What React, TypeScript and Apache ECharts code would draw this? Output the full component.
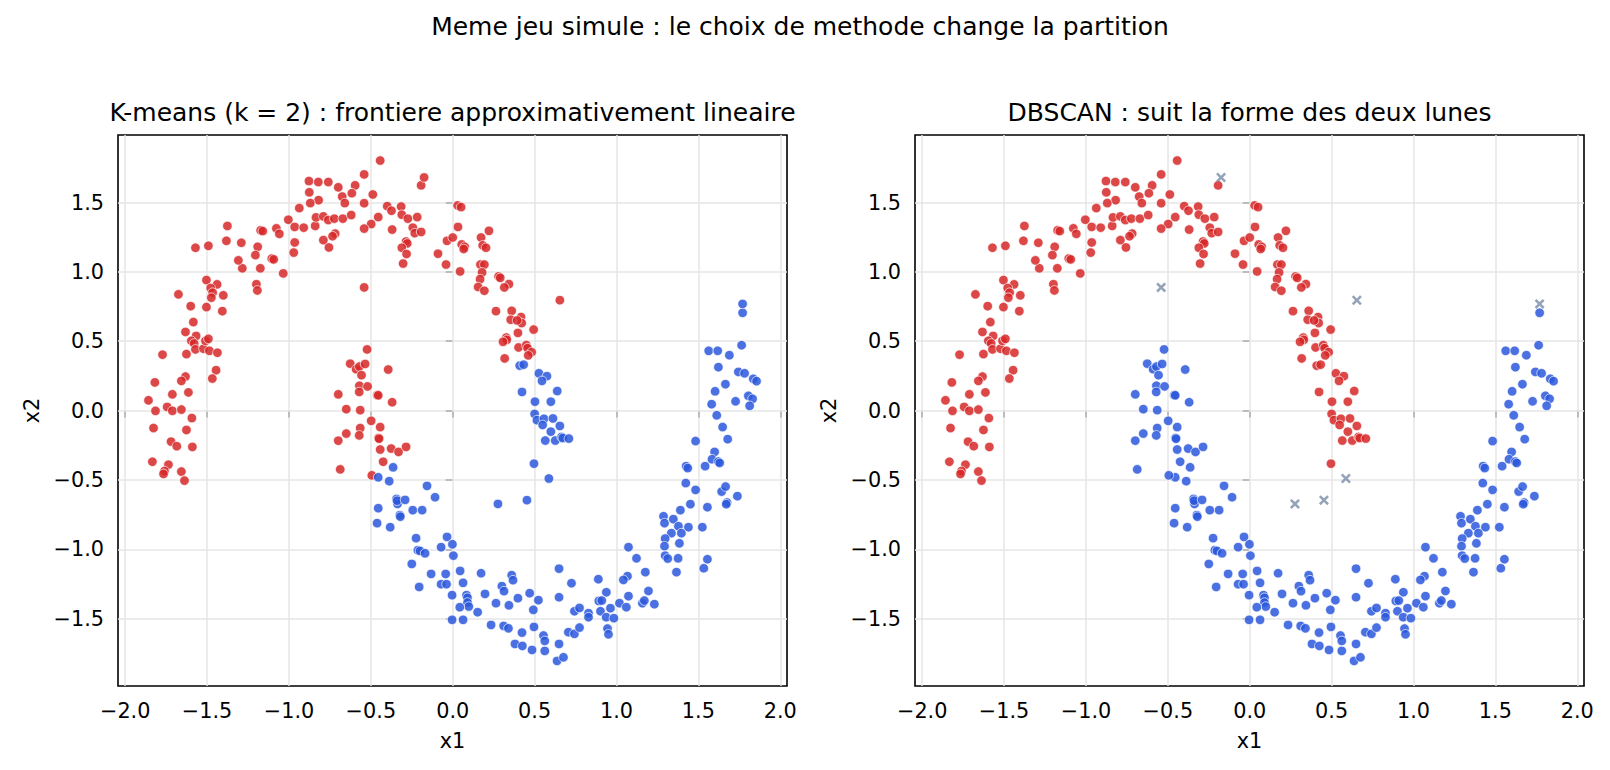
import React, { useEffect, useRef } from "react";
import * as echarts from "echarts";

type Pt = [number, number];

// Upper moon, same colour in both partitions
const upperMoonCore: Pt[] = [
  [-0.878, 1.655], [-0.821, 1.648], [-0.76, 1.648], [-0.699, 1.61], [-0.675, 1.543], [-0.659, 1.496],
  [-0.876, 1.574], [-0.819, 1.517], [-0.87, 1.496], [-0.937, 1.46], [-1.004, 1.376], [-0.965, 1.324],
  [-0.91, 1.319], [-0.84, 1.331], [-0.835, 1.393], [-0.79, 1.4], [-0.76, 1.374], [-0.723, 1.384],
  [-0.671, 1.384], [-0.718, 1.276], [-0.734, 1.257], [-0.79, 1.229], [-0.756, 1.176], [-1.077, 1.314],
  [-1.059, 1.274], [-1.173, 1.3], [-1.16, 1.294], [-0.965, 1.212], [-0.971, 1.139], [-1.035, 0.989],
  [-1.105, 1.096], [-1.093, 1.09], [-1.191, 1.181], [-1.205, 1.121], [-1.175, 1.026], [-1.285, 1.026],
  [-1.309, 1.083], [-1.291, 1.21], [-1.382, 1.224], [-1.376, 1.331], [-1.492, 1.188], [-1.571, 1.174],
  [-1.199, 0.911], [-1.193, 0.866], [-1.504, 0.941], [-1.439, 0.91], [-1.478, 0.884], [-1.466, 0.85],
  [-1.474, 0.814], [-1.401, 0.831], [-1.675, 0.838], [-1.6, 0.753], [-1.504, 0.746], [-1.407, 0.717],
  [-0.443, 1.803], [-0.541, 1.703], [-0.596, 1.624], [-0.616, 1.567], [-0.488, 1.558], [-0.541, 1.495],
  [-0.62, 1.41], [-0.455, 1.395], [-0.498, 1.345], [-0.541, 1.312], [-0.4, 1.474], [-0.374, 1.441],
  [-0.315, 1.471], [-0.311, 1.412], [-0.274, 1.384], [-0.217, 1.395], [-0.37, 1.305], [-0.244, 1.319],
  [-0.232, 1.279], [-0.193, 1.288], [-0.193, 1.624], [-0.285, 1.219], [-0.278, 1.205], [-0.311, 1.174],
  [-0.282, 1.129], [-0.303, 1.06], [-0.09, 1.131], [-0.041, 1.053], [-0.035, 1.224], [0.0, 1.248],
  [0.03, 1.479], [0.051, 1.467], [0.032, 1.324], [0.045, 1.003], [0.055, 1.198], [0.073, 1.181],
  [0.067, 1.165], [0.173, 1.248], [0.221, 1.296], [0.183, 1.191], [0.203, 1.174], [0.169, 1.053],
  [0.193, 1.053], [0.179, 0.996], [0.167, 0.948], [0.155, 0.891], [0.193, 0.864], [0.28, 0.967],
  [0.29, 0.957], [0.343, 0.912], [0.315, 0.888], [0.264, 0.717], [0.36, 0.719], [0.417, 0.674],
  [-1.584, 0.638], [-1.632, 0.567], [-1.567, 0.538], [-1.596, 0.503], [-1.579, 0.484], [-1.571, 0.441],
  [-1.522, 0.446], [-1.51, 0.503], [-1.492, 0.517], [-1.486, 0.431], [-1.437, 0.417], [-1.626, 0.407],
  [-1.772, 0.403], [-1.445, 0.291], [-1.468, 0.231], [-1.632, 0.245], [-1.657, 0.214], [-1.819, 0.203],
  [-1.712, 0.117], [-1.614, 0.131], [-1.858, 0.074], [-1.815, -0.002], [-1.744, 0.026], [-1.712, -0.002],
  [-1.657, 0.007], [-1.593, -0.054], [-1.827, -0.126], [-1.626, -0.14], [-1.72, -0.224], [-1.685, -0.257],
  [-1.59, -0.262], [-1.834, -0.369], [-1.736, -0.39], [-1.76, -0.436], [-1.766, -0.457], [-1.657, -0.44],
  [-1.638, -0.505],
  [0.354, 0.655], [0.421, 0.631], [0.393, 0.65], [0.494, 0.584], [0.398, 0.56], [0.327, 0.526],
  [0.33, 0.51], [0.307, 0.496], [0.402, 0.455], [0.449, 0.472], [0.457, 0.45], [0.482, 0.421],
  [0.461, 0.398], [0.317, 0.376],
];

// Tip of the upper moon: K-means puts it with the lower cluster
const upperMoonTip: Pt[] = [
  [0.409, 0.324], [0.433, 0.331], [0.526, 0.269], [0.575, 0.248], [0.545, 0.214], [0.423, 0.134],
  [0.638, 0.141], [0.502, 0.064], [0.599, 0.064], [0.5, -0.024], [0.514, -0.069], [0.557, -0.059],
  [0.612, -0.057], [0.549, -0.104], [0.599, -0.152], [0.565, -0.216], [0.626, -0.216], [0.496, -0.383],
  [0.654, -0.111], [0.665, -0.19], [0.672, -0.198], [0.709, -0.202],
];

// Tip of the lower moon: K-means puts it with the upper cluster
const lowerMoonTip: Pt[] = [
  [-0.699, 0.117], [-0.699, -0.217], [-0.687, -0.424], [-0.523, 0.441], [-0.626, 0.338], [-0.59, 0.298],
  [-0.57, 0.317], [-0.557, 0.255], [-0.535, 0.336], [-0.394, 0.296], [-0.57, 0.179], [-0.571, 0.134],
  [-0.52, 0.174], [-0.461, 0.112], [-0.455, 0.11], [-0.37, 0.06], [-0.65, 0.01], [-0.565, 0.003],
  [-0.498, -0.074], [-0.443, -0.119], [-0.565, -0.126], [-0.571, -0.179], [-0.65, -0.166], [-0.453, -0.197],
  [-0.45, -0.203], [-0.443, -0.281], [-0.376, -0.274], [-0.331, -0.298], [-0.285, -0.262], [-0.425, -0.369],
  [-0.494, -0.467],
];

// Lower moon, same colour in both partitions
const lowerMoonCore: Pt[] = [
  [-0.364, -0.409], [-0.455, -0.481], [-0.388, -0.509], [-0.157, -0.543],
  [-0.455, -0.704], [-0.343, -0.637], [-0.337, -0.673], [-0.34, -0.65], [-0.291, -0.644], [-0.323, -0.754],
  [-0.32, -0.765], [-0.244, -0.718], [-0.187, -0.718], [-0.108, -0.625], [-0.462, -0.812], [-0.382, -0.841],
  [-0.224, -0.92], [-0.213, -1.007], [-0.2, -1.012], [-0.169, -1.029], [-0.25, -1.106], [-0.132, -1.178],
  [-0.205, -1.272], [-0.035, -0.911], [-0.002, -0.964], [-0.071, -0.985], [0.004, -1.046], [0.045, -1.156],
  [-0.043, -1.178], [-0.071, -1.252], [-0.038, -1.252], [0.063, -1.242], [-0.004, -1.331], [0.084, -1.331],
  [0.09, -1.35], [0.09, -1.384], [0.098, -1.413], [0.043, -1.418], [0.152, -1.454], [-0.004, -1.509],
  [0.063, -1.509], [0.173, -1.173], [0.197, -1.322], [0.264, -1.389], [0.3, -1.266], [0.313, -1.302],
  [0.36, -1.187], [0.368, -1.223], [0.398, -1.353], [0.343, -1.404], [0.47, -1.317], [0.523, -1.367],
  [0.492, -1.437], [0.234, -1.546], [0.311, -1.553], [0.34, -1.57], [0.423, -1.601], [0.496, -1.56],
  [0.38, -1.683], [0.425, -1.697], [0.484, -1.726], [0.554, -1.622], [0.562, -1.661], [0.562, -1.733],
  [0.637, -1.805], [0.649, -1.683], [0.649, -1.346], [0.649, -1.14],
  [1.738, -0.617], [1.675, -0.663], [1.67, -0.675], [1.555, -0.697], [1.451, -0.675], [1.39, -0.718],
  [1.287, -0.762], [1.293, -0.812], [1.347, -0.783], [1.378, -0.834], [1.439, -0.841], [1.524, -0.841],
  [1.335, -0.884], [1.396, -0.884], [1.297, -0.923], [1.384, -0.957], [1.293, -0.978], [1.297, -1.046],
  [1.313, -1.067], [1.376, -1.065], [1.366, -1.165], [1.555, -1.072], [1.533, -1.137], [1.073, -0.985],
  [1.122, -1.065], [1.176, -1.165], [1.067, -1.194], [1.042, -1.221], [0.889, -1.216], [0.938, -1.31],
  [0.892, -1.373], [0.91, -1.37], [0.902, -1.447], [0.963, -1.425], [0.937, -1.49], [0.984, -1.497],
  [0.945, -1.572], [0.951, -1.613], [1.018, -1.389], [1.073, -1.338], [1.06, -1.418], [1.158, -1.389],
  [1.17, -1.37], [1.195, -1.301], [1.231, -1.396], [0.725, -1.245], [0.743, -1.447], [0.774, -1.423],
  [0.829, -1.461], [0.829, -1.49], [0.706, -1.598], [0.743, -1.61], [0.774, -1.565], [0.676, -1.779],
  [1.764, 0.471], [1.563, 0.431], [1.618, 0.431], [1.689, 0.399], [1.622, 0.313], [1.744, 0.279],
  [1.782, 0.269], [1.835, 0.229], [1.855, 0.212], [1.665, 0.19], [1.602, 0.139], [1.581, 0.046],
  [1.727, 0.067], [1.805, 0.106], [1.831, 0.085], [1.813, 0.034], [1.612, -0.034], [1.648, -0.119],
  [1.679, -0.206], [1.483, -0.22], [1.599, -0.298], [1.583, -0.351], [1.622, -0.368], [1.63, -0.378],
  [1.541, -0.401], [1.425, -0.401], [1.435, -0.415], [1.423, -0.523], [1.483, -0.572], [1.642, -0.584],
  [1.666, -0.548], [1.77, 0.705],
];

// Points DBSCAN leaves as noise, split by their K-means cluster
const noiseKmRed: Pt[] = [[-0.541, 0.888], [-0.175, 1.681], [0.654, 0.796]];
const noiseKmBlue: Pt[] = [[1.77, 0.769], [0.276, -0.673], [0.453, -0.646], [0.587, -0.49]];

const xTicks = [-2, -1.5, -1, -0.5, 0, 0.5, 1, 1.5, 2];
const yTicks = [-1.5, -1, -0.5, 0, 0.5, 1, 1.5];

const X_MIN = -2.044;
const X_MAX = 2.041;
const Y_MIN = -1.986;
const Y_MAX = 1.987;

const RED = "#d62728";
const BLUE = "#2a57dc";
const NOISE = "#7a8ca6";
const FONT = "DejaVu Sans";

const fmt = (v: number) => (v < 0 ? "\u2212" : "") + Math.abs(v).toFixed(1);

const CROSS =
  "path://M1.8,0 L5,3.2 L8.2,0 L10,1.8 L6.8,5 L10,8.2 L8.2,10 L5,6.8 L1.8,10 L0,8.2 L3.2,5 L0,1.8 Z";

function gridLines(i: number) {
  return {
    type: "scatter",
    xAxisIndex: i,
    yAxisIndex: i,
    data: [],
    silent: true,
    z: 1,
    markLine: {
      silent: true,
      z: 1,
      symbol: ["none", "none"],
      label: { show: false },
      emphasis: { disabled: true },
      lineStyle: { type: "solid", color: "#e6e6e6", width: 1.5 },
      data: [...xTicks.map((v) => ({ xAxis: v })), ...yTicks.map((v) => ({ yAxis: v }))],
    },
  };
}

function dots(i: number, data: Pt[], color: string) {
  return {
    type: "scatter",
    xAxisIndex: i,
    yAxisIndex: i,
    data,
    z: 3,
    symbolSize: 9.5,
    itemStyle: { color, opacity: 0.85, borderColor: "#ffffff", borderWidth: 0.8 },
  };
}

function xAxis(i: number) {
  return {
    type: "value",
    gridIndex: i,
    min: X_MIN,
    max: X_MAX,
    axisLine: { show: false },
    splitLine: { show: false },
    axisTick: { show: true, inside: false, length: 7, customValues: xTicks, lineStyle: { color: "#000", width: 1.5 } },
    axisLabel: { customValues: xTicks, formatter: fmt, fontSize: 20.8, color: "#000", fontFamily: FONT, margin: 14 },
    name: "x1",
    nameLocation: "middle",
    nameGap: 44,
    nameTextStyle: { fontSize: 20.8, color: "#000", fontFamily: FONT },
  };
}

function yAxis(i: number) {
  return {
    type: "value",
    gridIndex: i,
    min: Y_MIN,
    max: Y_MAX,
    axisLine: { show: false },
    splitLine: { show: false },
    axisTick: { show: true, inside: false, length: 7, customValues: yTicks, lineStyle: { color: "#000", width: 1.5 } },
    axisLabel: { customValues: yTicks, formatter: fmt, fontSize: 20.8, color: "#000", fontFamily: FONT, margin: 14 },
    name: "x2",
    nameLocation: "middle",
    nameGap: 76,
    nameTextStyle: { fontSize: 20.8, color: "#000", fontFamily: FONT },
  };
}

const gridBox = { show: true, borderColor: "#000", borderWidth: 1.6, backgroundColor: "transparent", top: 135, height: 551 };

export default function App() {
  const ref = useRef<HTMLDivElement>(null);

  useEffect(() => {
    if (!ref.current) return;
    const chart = echarts.init(ref.current, null, { renderer: "svg" });
    chart.setOption({
      animation: false,
      backgroundColor: "#ffffff",
      grid: [
        { ...gridBox, left: 118, width: 669 },
        { ...gridBox, left: 915, width: 669 },
      ],
      xAxis: [xAxis(0), xAxis(1)],
      yAxis: [yAxis(0), yAxis(1)],
      graphic: [
        {
          type: "text",
          x: 800,
          y: 26,
          style: {
            text: "Meme jeu simule : le choix de methode change la partition",
            fontSize: 25,
            fontFamily: FONT,
            fill: "#000",
            align: "center",
            verticalAlign: "middle",
          },
        },
        {
          type: "text",
          x: 452.5,
          y: 112,
          style: {
            text: "K-means (k = 2) : frontiere approximativement lineaire",
            fontSize: 25,
            fontFamily: FONT,
            fill: "#000",
            align: "center",
            verticalAlign: "middle",
          },
        },
        {
          type: "text",
          x: 1249.5,
          y: 112,
          style: {
            text: "DBSCAN : suit la forme des deux lunes",
            fontSize: 25,
            fontFamily: FONT,
            fill: "#000",
            align: "center",
            verticalAlign: "middle",
          },
        },
      ],
      series: [
        gridLines(0),
        gridLines(1),
        // K-means partition
        dots(0, [...upperMoonCore, ...lowerMoonTip, ...noiseKmRed], RED),
        dots(0, [...lowerMoonCore, ...upperMoonTip, ...noiseKmBlue], BLUE),
        // DBSCAN partition
        dots(1, [...upperMoonCore, ...upperMoonTip], RED),
        dots(1, [...lowerMoonCore, ...lowerMoonTip], BLUE),
        {
          type: "scatter",
          xAxisIndex: 1,
          yAxisIndex: 1,
          data: [...noiseKmRed, ...noiseKmBlue],
          z: 3,
          symbol: CROSS,
          symbolSize: 10,
          itemStyle: { color: NOISE, opacity: 0.8 },
        },
      ],
    });
    return () => chart.dispose();
  }, []);

  return (
    <div
      ref={ref}
      style={{ position: "fixed", left: 0, top: 0, width: 1610, height: 770, background: "#fff" }}
    />
  );
}
